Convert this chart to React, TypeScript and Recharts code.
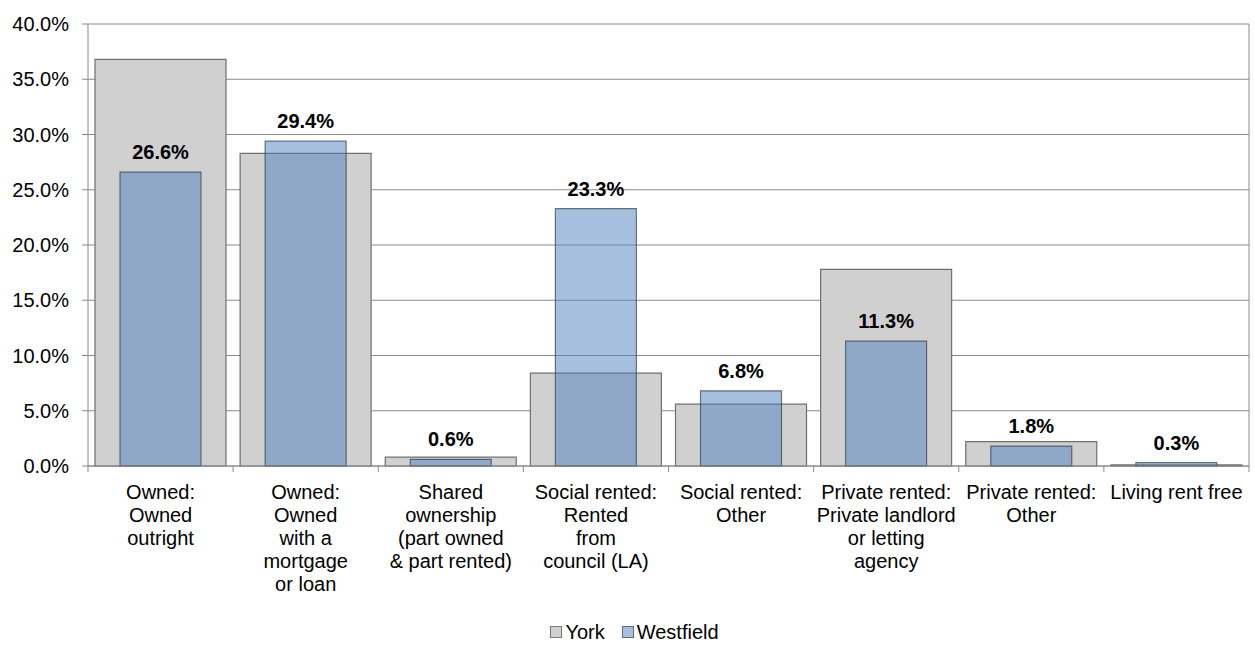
import React from "react";
import {
  BarChart,
  Bar,
  XAxis,
  YAxis,
  CartesianGrid,
  Legend,
  LabelList,
} from "recharts";

const CATEGORY_LINES: string[][] = [
  ["Owned:", "Owned", "outright"],
  ["Owned:", "Owned", "with a", "mortgage", "or loan"],
  ["Shared", "ownership", "(part owned", "& part rented)"],
  ["Social rented:", "Rented", "from", "council (LA)"],
  ["Social rented:", "Other"],
  ["Private rented:", "Private landlord", "or letting", "agency"],
  ["Private rented:", "Other"],
  ["Living rent free"],
];

const YORK = [36.8, 28.3, 0.8, 8.4, 5.6, 17.8, 2.2, 0.1];
const WESTFIELD = [26.6, 29.4, 0.6, 23.3, 6.8, 11.3, 1.8, 0.3];

const Y_TICKS = [0, 5, 10, 15, 20, 25, 30, 35, 40];

const FONT = "'Liberation Sans', Arial, sans-serif";
const W = 1255;
const H = 646;
const MARGIN = { top: 24, right: 6, bottom: 0, left: 8 };
const Y_AXIS_W = 80;
const BAND = (W - MARGIN.left - MARGIN.right - Y_AXIS_W) / CATEGORY_LINES.length;

const GRID = "#8a8a8a";
const YORK_FILL = "#d0d0d0";
const WEST_FILL = "#4f7fbd";

const data = CATEGORY_LINES.map((lines, i) => ({
  key: String(i),
  york: YORK[i],
  westfield: WESTFIELD[i],
}));

function CategoryTick(props: any) {
  const { x, y, payload, index } = props;
  const lines = CATEGORY_LINES[Number(payload.value)] ?? [];
  const last = index === CATEGORY_LINES.length - 1;
  return (
    <g>
      <line x1={x - BAND / 2} x2={x - BAND / 2} y1={y} y2={y + 6} stroke={GRID} />
      {last && <line x1={x + BAND / 2} x2={x + BAND / 2} y1={y} y2={y + 6} stroke={GRID} />}
      <text x={x} y={y + 33} textAnchor="middle" fontSize={20} fill="#000" fontFamily={FONT}>
        {lines.map((l, i) => (
          <tspan key={i} x={x} dy={i === 0 ? 0 : 23}>
            {l}
          </tspan>
        ))}
      </text>
    </g>
  );
}

function LegendBox(props: any) {
  const items = [
    { name: "York", fill: YORK_FILL, stroke: "#777" },
    { name: "Westfield", fill: "#a7bfde", stroke: "#5a6a80" },
  ];
  return (
    <div
      style={{
        height: 28,
        paddingTop: 6,
        display: "flex",
        justifyContent: "center",
        alignItems: "center",
        fontFamily: FONT,
        fontSize: 20,
        color: "#000",
        gap: 17,
        paddingLeft: 12,
      }}
    >
      {items.map((it) => (
        <span key={it.name} style={{ display: "flex", alignItems: "center" }}>
          <span
            style={{
              width: 10,
              height: 10,
              background: it.fill,
              border: `1px solid ${it.stroke}`,
              marginRight: 3,
              display: "inline-block",
            }}
          />
          {it.name}
        </span>
      ))}
    </div>
  );
}

export default function App() {
  return (
    <div style={{ position: "absolute", left: 0, top: 0, width: W, height: H, background: "#fff" }}>
      <BarChart width={W} height={H} data={data} margin={MARGIN}>
        <CartesianGrid
          vertical
          horizontal
          stroke={GRID}
          verticalCoordinatesGenerator={({ offset }: any) => [offset.left + offset.width]}
        />
        <XAxis
          xAxisId="york"
          dataKey="key"
          height={146}
          tickSize={0}
          tickMargin={0}
          tickLine={false}
          axisLine={{ stroke: GRID }}
          tick={<CategoryTick />}
          interval={0}
        />
        <XAxis xAxisId="west" dataKey="key" hide height={0} />
        <YAxis
          width={Y_AXIS_W}
          domain={[0, 40]}
          ticks={Y_TICKS}
          tickFormatter={(v: number) => `${v.toFixed(1)}%`}
          tick={{ fontSize: 20, fill: "#000", fontFamily: FONT }}
          tickSize={6}
          tickMargin={13}
          tickLine={{ stroke: GRID }}
          axisLine={{ stroke: GRID }}
          interval={0}
        />
        <Legend verticalAlign="bottom" content={<LegendBox />} />
        <Bar
          xAxisId="york"
          dataKey="york"
          name="York"
          barSize={131}
          fill={YORK_FILL}
          stroke="#707070"
          strokeWidth={1.2}
          isAnimationActive={false}
        />
        <Bar
          xAxisId="west"
          dataKey="westfield"
          name="Westfield"
          barSize={81}
          fill={WEST_FILL}
          fillOpacity={0.5}
          stroke="#33404f"
          strokeOpacity={0.7}
          strokeWidth={1.2}
          isAnimationActive={false}
        >
          <LabelList
            dataKey="westfield"
            position="top"
            offset={13}
            formatter={(v: any) => `${Number(v).toFixed(1)}%`}
            style={{ fontSize: 20, fontWeight: "bold", fill: "#000", fontFamily: FONT }}
          />
        </Bar>
      </BarChart>
    </div>
  );
}
